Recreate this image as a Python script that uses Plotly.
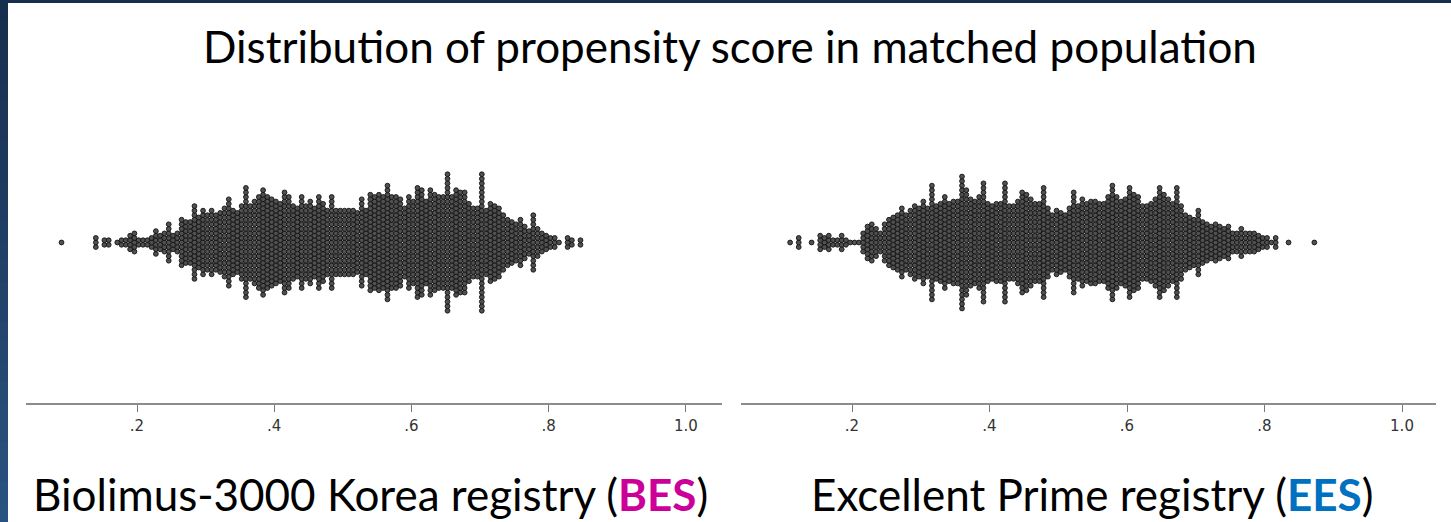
import plotly.graph_objects as go

# Propensity-score dot plots: counts of patients per score bin, two registries
bin_width = 0.00625

bes_first_bin = 0.09
bes_counts = [
    1, 0, 0, 0, 0, 0, 0, 0, 3, 0,
    2, 2, 0, 1, 2, 2, 4, 5, 2, 2,
    2, 3, 6, 4, 5, 9, 4, 5, 11, 10,
    10, 17, 12, 15, 13, 15, 13, 14, 16, 20,
    15, 14, 17, 25, 17, 19, 21, 24, 21, 20,
    19, 18, 23, 21, 17, 16, 21, 17, 19, 16,
    21, 18, 15, 21, 15, 15, 15, 15, 15, 14,
    20, 15, 22, 21, 22, 21, 26, 21, 21, 20,
    16, 21, 19, 25, 24, 19, 24, 22, 21, 21,
    31, 21, 24, 23, 23, 18, 16, 16, 31, 15,
    18, 17, 16, 13, 11, 10, 9, 11, 8, 6,
    13, 7, 5, 4, 3, 3, 1, 0, 3, 2,
    0, 2,
]

ees_first_bin = 0.11
ees_counts = [
    1, 0, 3, 0, 0, 1, 0, 4, 3, 4,
    2, 2, 4, 2, 1, 1, 1, 5, 8, 9,
    7, 5, 9, 11, 12, 13, 16, 13, 15, 17,
    16, 19, 16, 26, 17, 18, 21, 18, 19, 19,
    30, 24, 20, 19, 21, 27, 18, 17, 18, 18,
    27, 17, 17, 19, 23, 22, 20, 18, 18, 25,
    16, 13, 15, 14, 13, 16, 23, 17, 20, 18,
    19, 19, 18, 18, 21, 26, 21, 19, 20, 25,
    22, 21, 17, 17, 18, 20, 25, 22, 20, 18,
    25, 17, 13, 12, 11, 15, 10, 9, 8, 9,
    8, 7, 8, 5, 5, 7, 5, 5, 5, 4,
    3, 3, 1, 3, 0, 0, 1, 0, 0, 0,
    0, 0, 1,
]

tick_values = [0.2, 0.4, 0.6, 0.8, 1.0]
tick_labels = [".2", ".4", ".6", ".8", "1.0"]

title_text = "Distribution of propensity score in matched population"
left_caption = "Biolimus-3000 Korea registry (<b><span style='color:#CC0099'>BES</span></b>)"
right_caption = "Excellent Prime registry (<b><span style='color:#0070C0'>EES</span></b>)"

W, H = 1451, 522


def stack_dots(first_bin, counts):
    xs, ys = [], []
    for i, n in enumerate(counts):
        centre = first_bin + i * bin_width
        for k in range(n):
            xs.append(centre)
            ys.append(k - (n - 1) / 2.0)
    return xs, ys


marker = dict(size=4.8, color="#505050", line=dict(color="#111111", width=0.9))

fig = go.Figure()
bx, by = stack_dots(bes_first_bin, bes_counts)
ex, ey = stack_dots(ees_first_bin, ees_counts)
fig.add_trace(go.Scatter(x=bx, y=by, mode="markers", marker=marker,
                         xaxis="x", yaxis="y", showlegend=False, hoverinfo="skip"))
fig.add_trace(go.Scatter(x=ex, y=ey, mode="markers", marker=marker,
                         xaxis="x2", yaxis="y", showlegend=False, hoverinfo="skip"))

# pixel geometry of the plotting band
axis_px, top_px, centre_px, dot_pitch_px = 403, 100, 242.5, 4.55
y_range = [-(axis_px - centre_px) / dot_pitch_px, (centre_px - top_px) / dot_pitch_px]
y_domain = [(H - axis_px) / H, (H - top_px) / H]

axis_style = dict(
    showline=True, linecolor="#8c8c8c", linewidth=1.5,
    ticks="outside", ticklen=7, tickwidth=1, tickcolor="#777777",
    tickvals=tick_values, ticktext=tick_labels,
    tickfont=dict(family="DejaVu Sans", size=15, color="#333333"),
    ticklabelstandoff=1,
    showgrid=False, zeroline=False, fixedrange=True,
)

fig.update_layout(
    width=W, height=H,
    margin=dict(l=0, r=0, t=0, b=0),
    paper_bgcolor="white", plot_bgcolor="white",
    xaxis=dict(domain=[26 / W, 722 / W], range=[0.03825, 1.0525], anchor="y", **axis_style),
    xaxis2=dict(domain=[741 / W, 1436 / W], range=[0.03855, 1.04945], anchor="y", **axis_style),
    yaxis=dict(domain=y_domain, range=y_range, visible=False, fixedrange=True),
)

# slide frame: dark navy top rule and shaded left edge
shapes = []
steps = 26
c_top, c_bot = (23, 47, 78), (42, 82, 128)
for s in range(steps):
    t = s / (steps - 1)
    col = tuple(round(c_top[j] + (c_bot[j] - c_top[j]) * t) for j in range(3))
    shapes.append(dict(type="rect", xref="paper", yref="paper",
                       x0=0, x1=8 / W,
                       y0=max(0, 1 - (s + 1) / steps - 0.004), y1=1 - s / steps,
                       fillcolor="rgb(%d,%d,%d)" % col, line=dict(width=0)))
shapes.append(dict(type="rect", xref="paper", yref="paper", x0=0, x1=1,
                   y0=(H - 3) / H, y1=1, fillcolor="#172f4e", line=dict(width=0)))
fig.update_layout(shapes=shapes)

font_main = "Lato, Open Sans, sans-serif"
fig.add_annotation(text=title_text, xref="paper", yref="paper",
                   x=730 / W, y=1 - 46 / H, xanchor="center", yanchor="middle",
                   showarrow=False, font=dict(family=font_main, size=44, color="#000000"))
fig.add_annotation(text=left_caption, xref="paper", yref="paper",
                   x=370 / W, y=1 - 494 / H, xanchor="center", yanchor="middle",
                   showarrow=False, font=dict(family=font_main, size=44, color="#000000"))
fig.add_annotation(text=right_caption, xref="paper", yref="paper",
                   x=1092 / W, y=1 - 494 / H, xanchor="center", yanchor="middle",
                   showarrow=False, font=dict(family=font_main, size=44, color="#000000"))

fig.write_html("out.html")
